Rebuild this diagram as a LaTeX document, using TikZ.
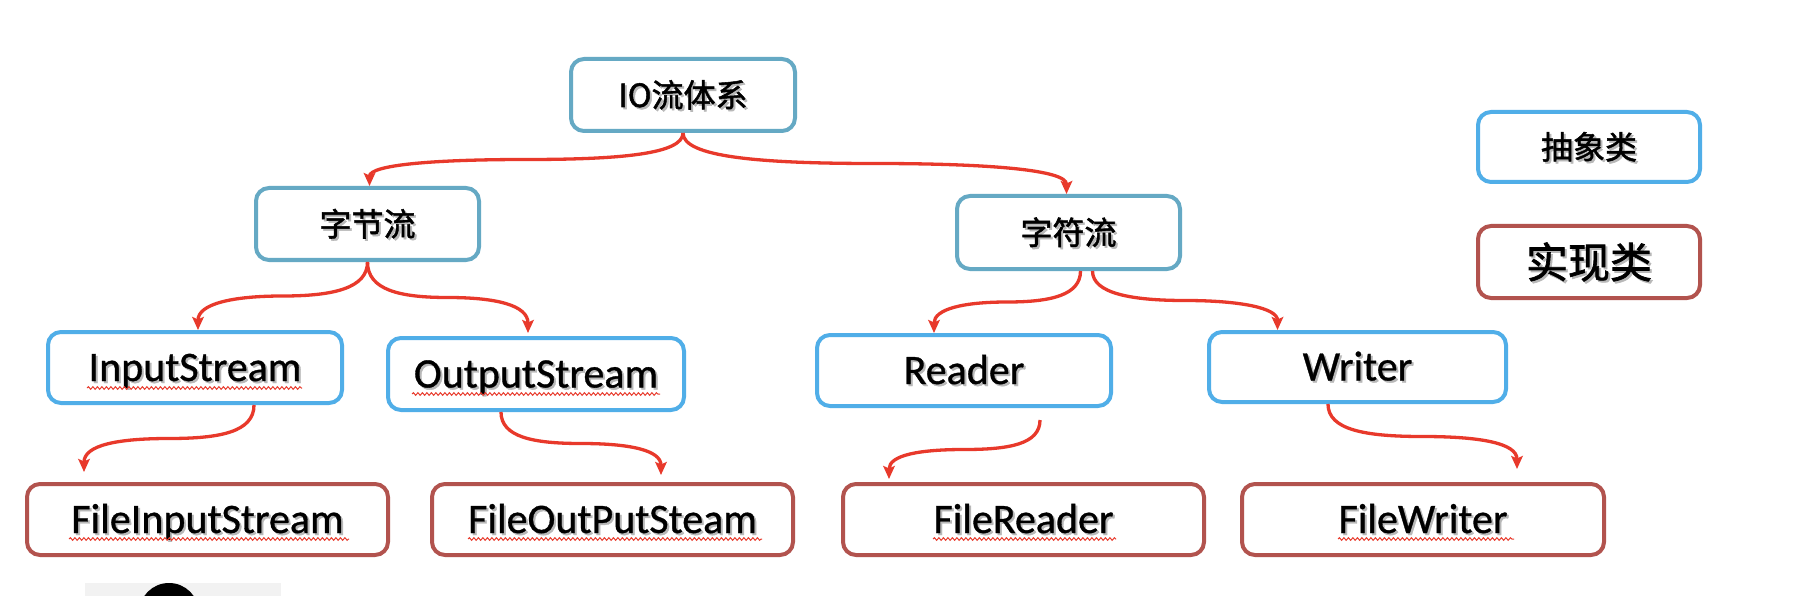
\documentclass[tikz,border=0pt]{standalone}
\usepackage{fontspec}
\setmainfont[FakeBold=0.8]{Carlito}
\newfontfamily\cjk[FakeBold=1.6]{Noto Sans CJK SC}
\usetikzlibrary{arrows.meta,calc,decorations.pathmorphing}
\definecolor{topblue}{HTML}{65A9C4}
\definecolor{absblue}{HTML}{50AEE8}
\definecolor{implred}{HTML}{B2534E}
\definecolor{arrred}{HTML}{E8392B}
\definecolor{squigred}{HTML}{E83A2C}
\newcommand\shtext[1]{\makebox[0pt][l]{\hspace*{2pt}\raisebox{-2pt}{\textcolor{black!28}{#1}}}#1}
\newcommand\linkarrow[4]{\draw[arr] (#1) .. controls +(0,#4) and +(#3,0) .. ($(#1)!0.5!(#2)$) .. controls +({-(#3)},0) and +(0,{-(#4)}) .. (#2);}
\begin{document}
\begin{tikzpicture}[x=1pt,y=-1pt,
  box/.style={draw, line width=4pt, rounded corners=13pt, fill=white, inner sep=0pt, text=black},
  cjkfont/.style={font={\cjk\fontsize{32}{36}\selectfont}, text height=24pt, text depth=0pt},
  latfont/.style={font={\fontsize{42}{48}\selectfont}, text height=27pt, text depth=0pt},
  topbox/.style={box, draw=topblue, cjkfont},
  absbox/.style={box, draw=absblue, latfont},
  implbox/.style={box, draw=implred, latfont},
  arr/.style={draw=arrred, line width=3.3pt, -{Stealth[length=13pt,width=11.5pt,inset=2.5pt]}},
  squig/.style={draw=squigred, line width=1pt, decorate, decoration={snake, amplitude=1.3pt, segment length=4.5pt}}
]
\useasboundingbox (0,0) rectangle (1794,596);
\fill[white] (0,0) rectangle (1794,596);

% top level
\node[topbox, minimum width=224pt, minimum height=72pt] (io) at (683,95) {\shtext{IO流体系}};
\node[topbox, minimum width=223pt, minimum height=72pt] (zj) at (367.5,224) {\shtext{字节流}};
\node[topbox, minimum width=223pt, minimum height=73pt] (zf) at (1068.5,232.5) {\shtext{字符流}};

% legend
\node[box, draw=absblue, cjkfont, minimum width=222pt, minimum height=70pt] (lga) at (1589,147) {\shtext{抽象类}};
\node[box, draw=implred, font={\cjk\fontsize{42}{46}\selectfont}, text height=32pt, text depth=0pt, minimum width=222pt, minimum height=72pt] (lgi) at (1589,262) {\shtext{实现类}};

% abstract classes
\node[absbox, minimum width=294pt, minimum height=71pt] (is) at (195,367.5) {\shtext{InputStream}};
\node[absbox, minimum width=296pt, minimum height=72pt] (os) at (536,374) {\shtext{OutputStream}};
\node[absbox, minimum width=294pt, minimum height=71pt] (rd) at (964,370.5) {\shtext{Reader}};
\node[absbox, minimum width=297pt, minimum height=70pt] (wr) at (1357.5,367) {\shtext{Writer}};

% implementation classes
\node[implbox, minimum width=361pt, minimum height=71pt] (fis) at (207.5,519.5) {\shtext{FileInputStream}};
\node[implbox, minimum width=361pt, minimum height=71pt] (fos) at (612.5,519.5) {\shtext{FileOutPutSteam}};
\node[implbox, minimum width=361pt, minimum height=71pt] (frd) at (1023.5,519.5) {\shtext{FileReader}};
\node[implbox, minimum width=362pt, minimum height=71pt] (fwr) at (1423,519.5) {\shtext{FileWriter}};

% spelling squiggles
\draw[squig] (87,388) -- (302,388);
\draw[squig] (412,394) -- (660,394);
\draw[squig] (69,539) -- (349,539);
\draw[squig] (468,539) -- (762,539);
\draw[squig] (933,539) -- (1116,539);
\draw[squig] (1338,539) -- (1514,539);

% connector end points
\coordinate (s1) at (io.south);
\coordinate (e1) at ([xshift=2pt]zj.north);
\coordinate (e2) at ([xshift=-2pt]zf.north);
\coordinate (s3) at (zj.south);
\coordinate (e3) at ([xshift=3pt]is.north);
\coordinate (e4) at ([xshift=-8pt,yshift=3pt]os.north);
\coordinate (s5) at ([xshift=12pt]zf.south);
\coordinate (e5) at ([xshift=-30pt]rd.north);
\coordinate (s6) at ([xshift=24pt]zf.south);
\coordinate (e6) at ([xshift=-80pt]wr.north);
\coordinate (s7) at ([xshift=59pt]is.south);
\coordinate (e7) at ([xshift=-123.5pt,yshift=10pt]fis.north);
\coordinate (s8) at ([xshift=-35pt]os.south);
\coordinate (e8) at ([xshift=48.5pt,yshift=7pt]fos.north);
\coordinate (s9) at ([xshift=76pt,yshift=-12pt]rd.south);
\coordinate (e9) at ([xshift=-134.5pt,yshift=3pt]frd.north);
\coordinate (s10) at ([xshift=-29.5pt]wr.south);
\coordinate (e10) at ([xshift=94pt,yshift=13pt]fwr.north);

\linkarrow{s1}{e1}{94}{21}
\linkarrow{s1}{e2}{-115}{24}
\linkarrow{s3}{e3}{51}{26}
\linkarrow{s3}{e4}{-48}{28}
\linkarrow{s5}{e5}{44}{24}
\linkarrow{s6}{e6}{-55}{22}
\linkarrow{s7}{e7}{51}{27}
\linkarrow{s8}{e8}{-48}{25}
\linkarrow{s9}{e9}{45}{24}
\linkarrow{s10}{e10}{-57}{26}

% partial object at the bottom edge
\fill[black!5] (85,583) rectangle (281,596);
\begin{scope}
\clip (0,0) rectangle (1794,596);
\fill[black] (169,613) circle[radius=30];
\end{scope}
\end{tikzpicture}
\end{document}
